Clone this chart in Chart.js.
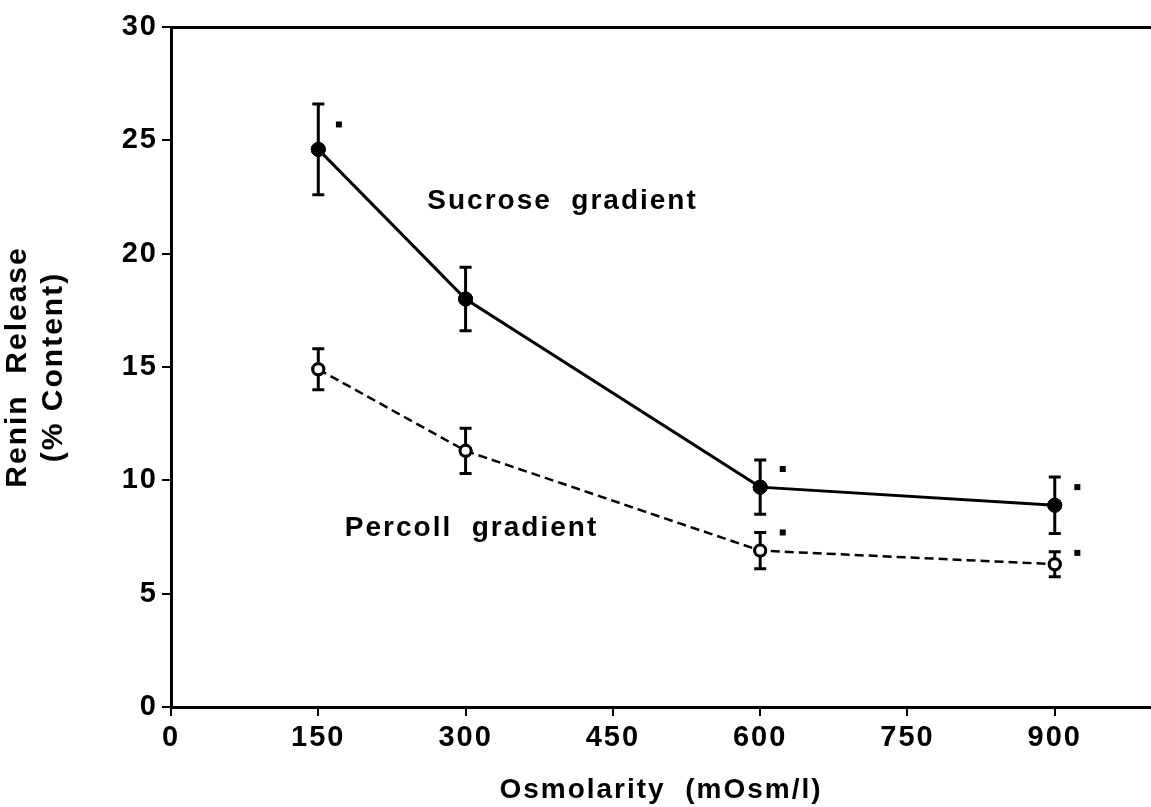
<!DOCTYPE html>
<html>
<head>
<meta charset="utf-8">
<script src="https://cdn.jsdelivr.net/npm/chart.js@4"></script>
<style>
html,body{margin:0;padding:0;background:#fff;}
#wrap{width:1151px;height:807px;position:relative;}
</style>
</head>
<body>
<div id="wrap"><canvas id="c" width="1151" height="807"></canvas></div>
<script>
// ---- data ----
const osmolarity = [150, 300, 600, 900];
const sucrose = [24.6, 18.0, 9.7, 8.9];
const sucroseErr = [2.0, 1.4, 1.2, 1.25];
const percoll = [14.9, 11.3, 6.9, 6.3];
const percollErr = [0.9, 1.0, 0.8, 0.55];
const xTicks = [0, 150, 300, 450, 600, 750, 900];
const yTicks = [0, 5, 10, 15, 20, 25, 30];
// significance marks (data coordinates)
const starX = [171, 623, 923, 623, 923];
const starY = [25.7, 10.5, 9.7, 7.7, 6.8];
// curve labels (data coordinates of left/middle)
const seriesLabels = ['Sucrose  gradient', 'Percoll  gradient'];
const labelX = [261, 177];
const labelY = [22.3, 7.9];

const FONT = "'Liberation Sans', Arial, Helvetica, sans-serif";

const spacing = {
  id: 'spacing',
  beforeUpdate(chart) { chart.ctx.letterSpacing = '2px'; },
  beforeDraw(chart) { chart.ctx.letterSpacing = '2px'; }
};

const errorBars = {
  id: 'errorBars',
  afterDatasetsDraw(chart) {
    const ctx = chart.ctx, xs = chart.scales.x, ys = chart.scales.y;
    const sets = [[sucrose, sucroseErr], [percoll, percollErr]];
    ctx.save();
    ctx.strokeStyle = '#000'; ctx.lineWidth = 3; ctx.setLineDash([]);
    sets.forEach(([vals, errs]) => {
      vals.forEach((v, i) => {
        const px = xs.getPixelForValue(osmolarity[i]);
        const top = ys.getPixelForValue(v + errs[i]);
        const bot = ys.getPixelForValue(v - errs[i]);
        ctx.beginPath();
        ctx.moveTo(px, top); ctx.lineTo(px, bot);
        ctx.moveTo(px - 6, top); ctx.lineTo(px + 6, top);
        ctx.moveTo(px - 6, bot); ctx.lineTo(px + 6, bot);
        ctx.stroke();
      });
    });
    // redraw points over error bars
    chart.data.datasets.forEach((ds, di) => {
      chart.getDatasetMeta(di).data.forEach(el => el.draw(ctx));
    });
    ctx.restore();
    ctx.save();
    ctx.fillStyle = '#000';
    starX.forEach((sx, i) => {
      const px = xs.getPixelForValue(sx), py = ys.getPixelForValue(starY[i]);
      ctx.fillRect(px - 3, py - 3, 6, 6);
    });
    ctx.letterSpacing = '2px';
    ctx.font = 'bold 28px ' + FONT;
    ctx.textBaseline = 'middle'; ctx.textAlign = 'left';
    seriesLabels.forEach((t, i) => {
      ctx.fillText(t, xs.getPixelForValue(labelX[i]), ys.getPixelForValue(labelY[i]));
    });
    ctx.restore();
  }
};

new Chart(document.getElementById('c'), {
  type: 'line',
  data: {
    datasets: [
      {
        label: 'Sucrose gradient',
        data: osmolarity.map((x, i) => ({x, y: sucrose[i]})),
        borderColor: '#000', borderWidth: 3,
        pointRadius: 7, pointBackgroundColor: '#000', pointBorderColor: '#000', pointBorderWidth: 1,
        tension: 0
      },
      {
        label: 'Percoll gradient',
        data: osmolarity.map((x, i) => ({x, y: percoll[i]})),
        borderColor: '#000', borderWidth: 2.5, borderDash: [9, 5],
        pointRadius: 5.5, pointBackgroundColor: '#fff', pointBorderColor: '#000', pointBorderWidth: 3,
        tension: 0
      }
    ]
  },
  options: {
    responsive: false,
    animation: false,
    devicePixelRatio: 1,
    layout: {autoPadding: false, padding: {left: 0, right: 0, top: 27, bottom: 0}},
    plugins: {legend: {display: false}, tooltip: {enabled: false}},
    scales: {
      x: {
        type: 'linear', min: 0, max: 998,
        afterBuildTicks: s => { s.ticks = xTicks.map(v => ({value: v})); },
        afterFit: s => { s.height = 100; s.paddingRight = 0; s.paddingLeft = 0; },
        border: {display: true, color: '#000', width: 3},
        grid: {display: true, drawOnChartArea: false, drawTicks: true, tickLength: 9, color: '#000', lineWidth: 2},
        ticks: {color: '#000', font: {family: FONT, size: 29, weight: 'bold'}, padding: 5, maxRotation: 0},
        title: {display: true, text: 'Osmolarity  (mOsm/l)', color: '#000', font: {family: FONT, size: 28, weight: 'bold'}, padding: {top: 2, bottom: 0}}
      },
      x2: {
        type: 'linear', position: 'top', min: 0, max: 998,
        afterFit: s => { s.height = 0; s.paddingRight = 0; s.paddingLeft = 0; },
        border: {display: true, color: '#000', width: 3},
        grid: {display: false},
        ticks: {display: false}
      },
      y: {
        type: 'linear', min: 0, max: 30,
        afterBuildTicks: s => { s.ticks = yTicks.map(v => ({value: v})); },
        afterFit: s => { s.width = 171; s.paddingTop = 0; s.paddingBottom = 0; },
        border: {display: true, color: '#000', width: 3},
        grid: {display: true, drawOnChartArea: false, drawTicks: true, tickLength: 9, color: '#000', lineWidth: 2},
        ticks: {color: '#000', font: {family: FONT, size: 29, weight: 'bold'}, padding: 4},
        title: {display: true, text: ['Renin  Release', '(% Content)'], color: '#000', font: {family: FONT, size: 30, weight: 'bold'}, padding: {top: 0, bottom: 4}}
      }
    }
  },
  plugins: [spacing, errorBars]
});
</script>
</body>
</html>
